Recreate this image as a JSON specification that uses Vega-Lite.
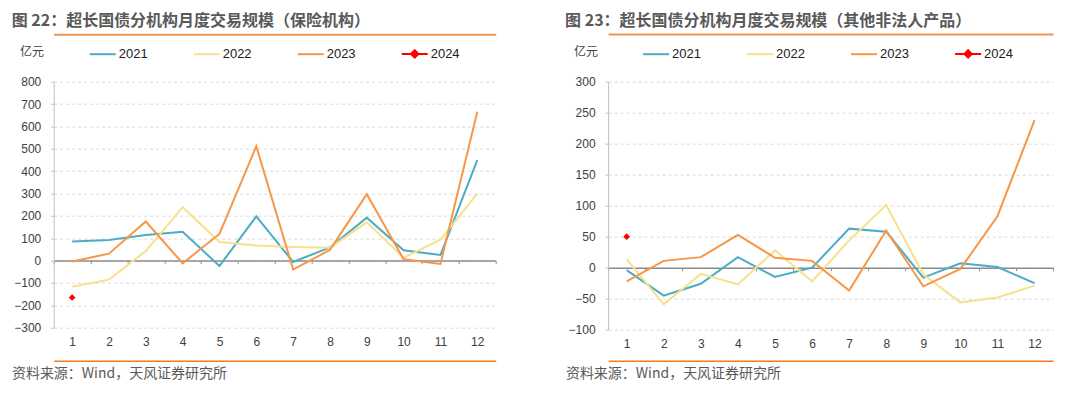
{
  "$schema": "https://vega.github.io/schema/vega-lite/v6.json",
  "background": "white",
  "padding": {"left": 10.7, "top": 12.7, "right": 27.3, "bottom": 6},
  "autosize": {"type": "pad"},
  "config": {
    "font": "Liberation Sans, Noto Sans CJK SC",
    "view": {"stroke": null},
    "concat": {"spacing": 68.4},
    "axisY": {"labelOverlap": false}
  },
  "datasets": {
    "ins": [
      {"m": 1, "y": "2021", "v": 85}, {"m": 2, "y": "2021", "v": 92}, {"m": 3, "y": "2021", "v": 114}, {"m": 4, "y": "2021", "v": 129},
      {"m": 5, "y": "2021", "v": -24}, {"m": 6, "y": "2021", "v": 198}, {"m": 7, "y": "2021", "v": -6}, {"m": 8, "y": "2021", "v": 59},
      {"m": 9, "y": "2021", "v": 192}, {"m": 10, "y": "2021", "v": 46}, {"m": 11, "y": "2021", "v": 25}, {"m": 12, "y": "2021", "v": 449},
      {"m": 1, "y": "2022", "v": -117}, {"m": 2, "y": "2022", "v": -85}, {"m": 3, "y": "2022", "v": 43}, {"m": 4, "y": "2022", "v": 239},
      {"m": 5, "y": "2022", "v": 83}, {"m": 6, "y": "2022", "v": 67}, {"m": 7, "y": "2022", "v": 61}, {"m": 8, "y": "2022", "v": 58},
      {"m": 9, "y": "2022", "v": 171}, {"m": 10, "y": "2022", "v": 13}, {"m": 11, "y": "2022", "v": 94}, {"m": 12, "y": "2022", "v": 299},
      {"m": 1, "y": "2023", "v": -4}, {"m": 2, "y": "2023", "v": 31}, {"m": 3, "y": "2023", "v": 175}, {"m": 4, "y": "2023", "v": -12},
      {"m": 5, "y": "2023", "v": 119}, {"m": 6, "y": "2023", "v": 511}, {"m": 7, "y": "2023", "v": -40}, {"m": 8, "y": "2023", "v": 48},
      {"m": 9, "y": "2023", "v": 297}, {"m": 10, "y": "2023", "v": 6}, {"m": 11, "y": "2023", "v": -15}, {"m": 12, "y": "2023", "v": 666},
      {"m": 1, "y": "2024", "v": -165}
    ],
    "oth": [
      {"m": 1, "y": "2021", "v": -4}, {"m": 2, "y": "2021", "v": -45}, {"m": 3, "y": "2021", "v": -26}, {"m": 4, "y": "2021", "v": 17},
      {"m": 5, "y": "2021", "v": -15}, {"m": 6, "y": "2021", "v": 0}, {"m": 7, "y": "2021", "v": 63}, {"m": 8, "y": "2021", "v": 58},
      {"m": 9, "y": "2021", "v": -16}, {"m": 10, "y": "2021", "v": 7}, {"m": 11, "y": "2021", "v": 1}, {"m": 12, "y": "2021", "v": -25},
      {"m": 1, "y": "2022", "v": 14}, {"m": 2, "y": "2022", "v": -59}, {"m": 3, "y": "2022", "v": -10}, {"m": 4, "y": "2022", "v": -27},
      {"m": 5, "y": "2022", "v": 28}, {"m": 6, "y": "2022", "v": -22}, {"m": 7, "y": "2022", "v": 44}, {"m": 8, "y": "2022", "v": 101},
      {"m": 9, "y": "2022", "v": -11}, {"m": 10, "y": "2022", "v": -56}, {"m": 11, "y": "2022", "v": -48}, {"m": 12, "y": "2022", "v": -29},
      {"m": 1, "y": "2023", "v": -22}, {"m": 2, "y": "2023", "v": 11}, {"m": 3, "y": "2023", "v": 17}, {"m": 4, "y": "2023", "v": 53},
      {"m": 5, "y": "2023", "v": 16}, {"m": 6, "y": "2023", "v": 11}, {"m": 7, "y": "2023", "v": -37}, {"m": 8, "y": "2023", "v": 60},
      {"m": 9, "y": "2023", "v": -30}, {"m": 10, "y": "2023", "v": -2}, {"m": 11, "y": "2023", "v": 83}, {"m": 12, "y": "2023", "v": 238},
      {"m": 1, "y": "2024", "v": 50}
    ]
  },
  "resolve": {"scale": {"color": "independent"}, "legend": {"color": "independent"}},
  "hconcat": [
    {
      "title": {"text": "图 22：超长国债分机构月度交易规模（保险机构）", "anchor": "start", "frame": "group", "dx": -42, "offset": 5, "fontSize": 16, "fontWeight": "bold", "color": "#595959", "font": "Noto Sans CJK SC"},
      "width": 442,
      "height": 246,
      "data": {"name": "ins"},
      "resolve": {"scale": {"x": "independent"}, "axis": {"x": "independent"}},
      "layer": [
        {
          "transform": [{"filter": "datum.y !== '2024'"}],
          "mark": {"type": "line", "strokeWidth": 2},
          "encoding": {
            "x": {"field": "m", "type": "quantitative", "scale": {"domain": [0.5, 12.5], "nice": false, "zero": false},
              "axis": {"orient": "bottom", "offset": -67.1, "values": [0.5, 1, 1.5, 2, 2.5, 3, 3.5, 4, 4.5, 5, 5.5, 6, 6.5, 7, 7.5, 8, 8.5, 9, 9.5, 10, 10.5, 11, 11.5, 12, 12.5],
                "labelExpr": "datum.value % 1 === 0 ? format(datum.value, 'd') : ''", "grid": false, "domainColor": "#8C8C8C", "domainWidth": 1.5,
                "tickColor": "#8C8C8C", "tickSize": 3, "tickWidth": 1, "tickOpacity": {"condition": {"test": "datum.value % 1 === 0", "value": 0}, "value": 1},
                "labelPadding": 77.7, "labelBaseline": "middle", "labelFontSize": 12, "labelColor": "#404040", "labelOverlap": false, "labelFlush": false, "title": null}},
            "y": {"field": "v", "type": "quantitative", "scale": {"domain": [-300, 800], "nice": false, "zero": false},
              "axis": {"values": [-300, -200, -100, 0, 100, 200, 300, 400, 500, 600, 700, 800], "tickCount": 12, "labelOverlap": false, "grid": true, "gridColor": "#D9D9D9", "gridDash": [3, 3], "gridWidth": 1,
                "domainColor": "#BFBFBF", "domainWidth": 1, "tickColor": "#BFBFBF", "tickSize": 3, "labelPadding": 10, "labelFontSize": 12, "labelColor": "#404040",
                "title": "亿元", "titleAngle": 0, "titleX": -34.3, "titleY": -30, "titleAlign": "left", "titleBaseline": "middle", "titleFontSize": 12, "titleFontWeight": "normal", "titleColor": "#404040", "titleFont": "Noto Sans CJK SC"}},
            "color": {"field": "y", "type": "nominal", "scale": {"domain": ["2021", "2022", "2023", "2024"], "range": ["#4BACC6", "#F8E08E", "#F79646", "#FF0000"]},
              "legend": {"orient": "none", "legendX": 35, "legendY": -42, "direction": "horizontal", "columns": 4, "title": null, "padding": 0,
                "symbolType": "stroke", "symbolSize": 676, "symbolStrokeWidth": 2, "labelFontSize": 13, "labelColor": "#222222", "labelOffset": 2, "columnPadding": 42,
                "encode": {"symbols": {"update": {"shape": {"signal": "datum.value === '2024' ? 'M-1,0H1M0,-0.28L0.28,0L0,0.28L-0.28,0Z' : 'stroke'"}, "fill": {"signal": "datum.value === '2024' ? '#FF0000' : 'transparent'"}}}}}}
          }
        },
        {
          "transform": [{"filter": "datum.y === '2024'"}],
          "mark": {"type": "line", "strokeWidth": 2},
          "encoding": {
            "x": {"field": "m", "type": "quantitative", "scale": {"domain": [0.5, 12.5], "nice": false, "zero": false},
              "axis": {"orient": "top", "offset": 47.4, "domainColor": "#EE9350", "domainWidth": 2, "ticks": false, "labels": false, "grid": false, "title": null,
                "encode": {"domain": {"update": {"x": {"value": -54.3}, "x2": {"value": 472.7}}}}}},
            "y": {"field": "v", "type": "quantitative"},
            "color": {"field": "y", "type": "nominal"}
          }
        },
        {
          "transform": [{"filter": "datum.y === '2024'"}],
          "mark": {"type": "point", "shape": "diamond", "filled": true, "size": 45, "opacity": 1},
          "encoding": {
            "x": {"field": "m", "type": "quantitative", "scale": {"domain": [0.5, 12.5], "nice": false, "zero": false},
              "axis": {"orient": "bottom", "offset": 33, "domainColor": "#F47B20", "domainWidth": 1.5, "ticks": false, "labels": false, "grid": false,
                "title": "资料来源：Wind，天风证券研究所", "titleX": -42.3, "titleY": 13, "titleAlign": "left", "titleBaseline": "middle", "titleFontSize": 14, "titleFontWeight": "normal", "titleColor": "#595959", "titleFont": "Noto Sans CJK SC",
                "encode": {"domain": {"update": {"x": {"value": -54.3}, "x2": {"value": 455.7}}}}}},
            "y": {"field": "v", "type": "quantitative"},
            "color": {"field": "y", "type": "nominal"}
          }
        }
      ]
    },
    {
      "title": {"text": "图 23：超长国债分机构月度交易规模（其他非法人产品）", "anchor": "start", "frame": "group", "dx": -43, "offset": 5, "fontSize": 16, "fontWeight": "bold", "color": "#595959", "font": "Noto Sans CJK SC"},
      "width": 445,
      "height": 248,
      "data": {"name": "oth"},
      "resolve": {"scale": {"x": "independent"}, "axis": {"x": "independent"}},
      "layer": [
        {
          "transform": [{"filter": "datum.y !== '2024'"}],
          "mark": {"type": "line", "strokeWidth": 2},
          "encoding": {
            "x": {"field": "m", "type": "quantitative", "scale": {"domain": [0.5, 12.5], "nice": false, "zero": false},
              "axis": {"orient": "bottom", "offset": -62, "values": [0.5, 1, 1.5, 2, 2.5, 3, 3.5, 4, 4.5, 5, 5.5, 6, 6.5, 7, 7.5, 8, 8.5, 9, 9.5, 10, 10.5, 11, 11.5, 12, 12.5],
                "labelExpr": "datum.value % 1 === 0 ? format(datum.value, 'd') : ''", "grid": false, "domainColor": "#8C8C8C", "domainWidth": 1.5,
                "tickColor": "#8C8C8C", "tickSize": 3, "tickWidth": 1, "tickOpacity": {"condition": {"test": "datum.value % 1 === 0", "value": 0}, "value": 1},
                "labelPadding": 72.7, "labelBaseline": "middle", "labelFontSize": 12, "labelColor": "#404040", "labelOverlap": false, "labelFlush": false, "title": null}},
            "y": {"field": "v", "type": "quantitative", "scale": {"domain": [-100, 300], "nice": false, "zero": false},
              "axis": {"values": [-100, -50, 0, 50, 100, 150, 200, 250, 300], "tickCount": 9, "labelOverlap": false, "grid": true, "gridColor": "#D9D9D9", "gridDash": [3, 3], "gridWidth": 1,
                "domainColor": "#BFBFBF", "domainWidth": 1, "tickColor": "#BFBFBF", "tickSize": 3, "labelPadding": 10, "labelFontSize": 12, "labelColor": "#404040",
                "title": "亿元", "titleAngle": 0, "titleX": -34.7, "titleY": -30.3, "titleAlign": "left", "titleBaseline": "middle", "titleFontSize": 12, "titleFontWeight": "normal", "titleColor": "#404040", "titleFont": "Noto Sans CJK SC"}},
            "color": {"field": "y", "type": "nominal", "scale": {"domain": ["2021", "2022", "2023", "2024"], "range": ["#4BACC6", "#F8E08E", "#F79646", "#FF0000"]},
              "legend": {"orient": "none", "legendX": 34, "legendY": -42, "direction": "horizontal", "columns": 4, "title": null, "padding": 0,
                "symbolType": "stroke", "symbolSize": 676, "symbolStrokeWidth": 2, "labelFontSize": 13, "labelColor": "#222222", "labelOffset": 2, "columnPadding": 42,
                "encode": {"symbols": {"update": {"shape": {"signal": "datum.value === '2024' ? 'M-1,0H1M0,-0.28L0.28,0L0,0.28L-0.28,0Z' : 'stroke'"}, "fill": {"signal": "datum.value === '2024' ? '#FF0000' : 'transparent'"}}}}}}
          }
        },
        {
          "transform": [{"filter": "datum.y === '2024'"}],
          "mark": {"type": "line", "strokeWidth": 2},
          "encoding": {
            "x": {"field": "m", "type": "quantitative", "scale": {"domain": [0.5, 12.5], "nice": false, "zero": false},
              "axis": {"orient": "top", "offset": 47.7, "domainColor": "#EE9350", "domainWidth": 2, "ticks": false, "labels": false, "grid": false, "title": null,
                "encode": {"domain": {"update": {"x": {"value": -55.7}, "x2": {"value": 472.3}}}}}},
            "y": {"field": "v", "type": "quantitative"},
            "color": {"field": "y", "type": "nominal"}
          }
        },
        {
          "transform": [{"filter": "datum.y === '2024'"}],
          "mark": {"type": "point", "shape": "diamond", "filled": true, "size": 45, "opacity": 1},
          "encoding": {
            "x": {"field": "m", "type": "quantitative", "scale": {"domain": [0.5, 12.5], "nice": false, "zero": false},
              "axis": {"orient": "bottom", "offset": 31, "domainColor": "#F47B20", "domainWidth": 1.5, "ticks": false, "labels": false, "grid": false,
                "title": "资料来源：Wind，天风证券研究所", "titleX": -42.7, "titleY": 13, "titleAlign": "left", "titleBaseline": "middle", "titleFontSize": 14, "titleFontWeight": "normal", "titleColor": "#595959", "titleFont": "Noto Sans CJK SC",
                "encode": {"domain": {"update": {"x": {"value": -55.7}, "x2": {"value": 472.3}}}}}},
            "y": {"field": "v", "type": "quantitative"},
            "color": {"field": "y", "type": "nominal"}
          }
        }
      ]
    }
  ]
}
